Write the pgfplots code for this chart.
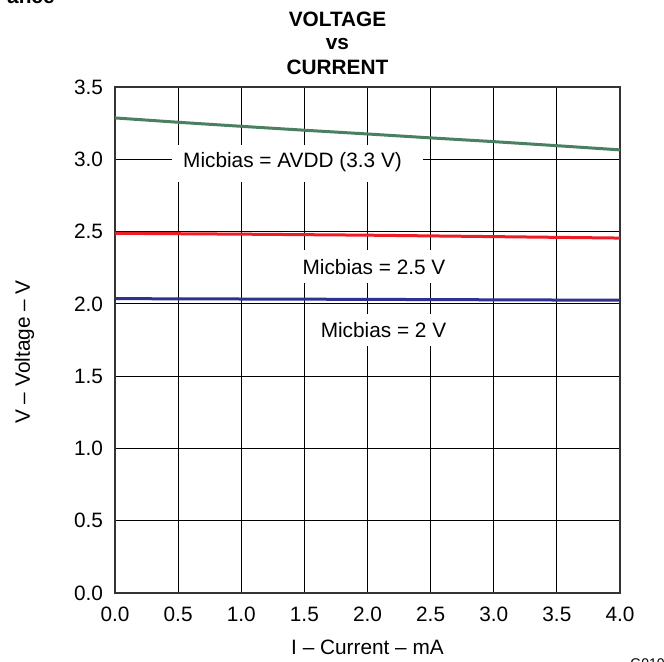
\documentclass[border=0pt]{standalone}
\usepackage{pgfplots}
\pgfplotsset{compat=1.18}
\usepackage{fontspec}
\setmainfont{Liberation Sans}
\definecolor{cgreen}{HTML}{4A7F62}
\definecolor{cred}{HTML}{EE1C25}
\definecolor{cblue}{HTML}{2E3192}
\definecolor{cframe}{HTML}{333333}
\begin{document}
\fontsize{10.4}{12.5}\selectfont
\begin{tikzpicture}
\useasboundingbox (-57.5pt,-34.5pt) rectangle (274.5pt,296.5pt);
\begin{axis}[
  at={(0pt,0pt)}, anchor=south west,
  scale only axis, width=252.5pt, height=253pt,
  xmin=0, xmax=4, ymin=0, ymax=3.5,
  xtick={0,0.5,...,4}, ytick={0,0.5,...,3.5},
  xticklabels={0.0,0.5,1.0,1.5,2.0,2.5,3.0,3.5,4.0},
  yticklabels={0.0,0.5,1.0,1.5,2.0,2.5,3.0,3.5},
  /pgf/number format/assume math mode=true,
  major tick length=0pt,
  grid=major,
  major grid style={black, line width=0.5pt},
  axis line style={cframe, line width=1.1pt},
  xticklabel style={font=\fontsize{10.4}{12.5}\selectfont, inner sep=0pt, anchor=north, yshift=-6.8pt},
  yticklabel style={font=\fontsize{10.4}{12.5}\selectfont, inner sep=0pt, anchor=east, xshift=-5.8pt},
  clip=false,
]
\addplot[cgreen, line width=1.5pt] coordinates {
 (0,3.286) (0.5,3.256) (1,3.228) (1.5,3.201) (2,3.175) (2.5,3.148) (3,3.122) (3.5,3.094) (4,3.065)};
\addplot[cred, line width=1.5pt] coordinates {
 (0,2.488) (1,2.482) (2,2.475) (3,2.465) (4,2.455)};
\addplot[cblue, line width=1.5pt] coordinates {
 (0,2.036) (2,2.031) (4,2.025)};
\end{axis}
% label boxes
\node[fill=white, inner sep=0pt, minimum width=125.5pt, minimum height=18.5pt] at (91.25pt,214.75pt) {};
\node[inner sep=0pt] at (88.75pt,215.5pt) {Micbias = AVDD (3.3 V)};
\node[fill=white, inner sep=0pt, minimum width=82pt, minimum height=16.5pt] at (129.5pt,163pt) {};
\node[inner sep=0pt] at (129.5pt,163pt) {Micbias = 2.5 V};
\node[fill=white, inner sep=0pt, minimum width=72pt, minimum height=16pt] at (134.25pt,131.5pt) {};
\node[inner sep=0pt] at (134.25pt,131.5pt) {Micbias = 2 V};
% title
\node[anchor=base, inner sep=0pt, font=\bfseries] at (111.25pt,283.2pt) {VOLTAGE};
\node[anchor=base, inner sep=0pt, font=\bfseries] at (111.25pt,271.5pt) {vs};
\node[anchor=base, inner sep=0pt, font=\bfseries] at (111.25pt,259pt) {CURRENT};
% axis labels
\node[anchor=base, inner sep=0pt, rotate=90] at (-42.5pt,120.5pt) {V -- Voltage -- V};
\node[inner sep=0pt] at (126.25pt,-27pt) {I -- Current -- mA};
% cut-off texts
\node[anchor=base east, inner sep=0pt, font=\bfseries] at (-30pt,294.5pt) {ance};
\node[anchor=north west, inner sep=0pt, font=\fontsize{7}{8}\selectfont] at (257.5pt,-32.5pt) {G010};
\end{tikzpicture}
\end{document}
